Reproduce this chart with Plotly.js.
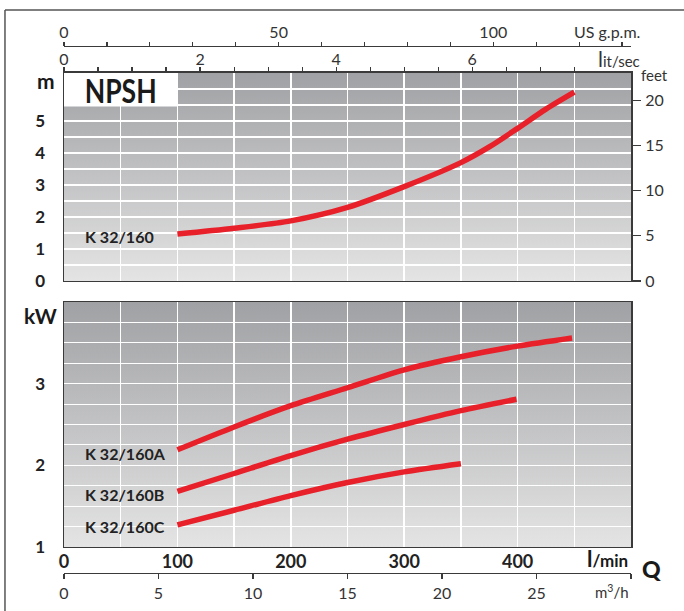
<!DOCTYPE html>
<html>
<head>
<meta charset="utf-8">
<script src="https://cdn.plot.ly/plotly-3.0.1.min.js"></script>
<style>html,body{margin:0;padding:0;background:#fff;}#chart{width:684px;height:611px;}</style>
</head>
<body>
<div id="chart"></div>
<script>
// ---- data ----
const flowNPSH = [100, 150, 200, 250, 300, 350, 375, 400, 425, 450];      // l/min
const npshK160 = [1.47, 1.65, 1.88, 2.30, 2.95, 3.70, 4.19, 4.77, 5.37, 5.90]; // m
const flowA = [100, 150, 200, 250, 300, 350, 400, 448];
const powerA = [2.19, 2.47, 2.73, 2.95, 3.17, 3.33, 3.46, 3.56];          // kW
const flowB = [100, 150, 200, 250, 300, 350, 399];
const powerB = [1.68, 1.90, 2.12, 2.32, 2.50, 2.67, 2.81];
const flowC = [100, 150, 200, 250, 300, 350];
const powerC = [1.27, 1.45, 1.63, 1.79, 1.92, 2.02];

const seriesNames = ['K 32/160', 'K 32/160A', 'K 32/160B', 'K 32/160C'];

// axis ticks / labels
const lminMax = 500;
const lminTicks = [0, 50, 100, 150, 200, 250, 300, 350, 400, 450, 500];
const lminLabels = ['0', '', '100', '', '200', '', '300', '', '400', '', ''];
const m3hTicks = [0, 5, 10, 15, 20, 25, 30];
const m3hLabels = ['0', '5', '10', '15', '20', '25', ''];
const lsecTicks = [0, 0.5, 1, 1.5, 2, 2.5, 3, 3.5, 4, 4.5, 5, 5.5, 6, 6.5, 7, 7.5];
const lsecLabels = ['0', '', '', '', '2', '', '', '', '4', '', '', '', '6', '', '', ''];
const gpmTicks = [0, 10, 20, 30, 40, 50, 60, 70, 80, 90, 100, 110, 120, 130];
const gpmLabels = ['0', '', '', '', '', '50', '', '', '', '', '100', '', '', ''];
const mTicks = [0, 0.5, 1, 1.5, 2, 2.5, 3, 3.5, 4, 4.5, 5, 5.5, 6, 6.5];
const mLabels = ['0', '', '1', '', '2', '', '3', '', '4', '', '5', '', '', ''];
const feetTicks = [0, 5, 10, 15, 20];
const kwTicks = [1, 1.25, 1.5, 1.75, 2, 2.25, 2.5, 2.75, 3, 3.25, 3.5, 3.75, 4];
const kwLabels = ['1', '', '', '', '2', '', '', '', '3', '', '', '', ''];

// ---- styling ----
const RED = '#e8202a';
const DARK = '#3a3a3a';
const FONT = 'Lato, "Open Sans", sans-serif';
const lineStyle = {color: RED, width: 5.5, shape: 'spline', smoothing: 0.8};

const traces = [
  {x: flowNPSH, y: npshK160, xaxis: 'x2', yaxis: 'y2', mode: 'lines', line: lineStyle, name: seriesNames[0], hoverinfo: 'skip'},
  {x: flowA, y: powerA, xaxis: 'x', yaxis: 'y', mode: 'lines', line: lineStyle, name: seriesNames[1], hoverinfo: 'skip'},
  {x: flowB, y: powerB, xaxis: 'x', yaxis: 'y', mode: 'lines', line: lineStyle, name: seriesNames[2], hoverinfo: 'skip'},
  {x: flowC, y: powerC, xaxis: 'x', yaxis: 'y', mode: 'lines', line: lineStyle, name: seriesNames[3], hoverinfo: 'skip'},
  // empty traces so that the secondary unit axes get drawn
  {x: [], y: [], xaxis: 'x3', yaxis: 'y2', mode: 'lines', hoverinfo: 'skip'},
  {x: [], y: [], xaxis: 'x4', yaxis: 'y2', mode: 'lines', hoverinfo: 'skip'},
  {x: [], y: [], xaxis: 'x5', yaxis: 'y', mode: 'lines', hoverinfo: 'skip'},
  {x: [], y: [], xaxis: 'x2', yaxis: 'y3', mode: 'lines', hoverinfo: 'skip'}
];

// paper mapping: paper spans pixel rows 46..573
const topDom = [0.55408, 0.94877];
const botDom = [0.04934, 0.51423];

const grad = 'data:image/svg+xml;utf8,' + encodeURIComponent(
  '<svg xmlns="http://www.w3.org/2000/svg" width="100" height="100" viewBox="0 0 100 100" preserveAspectRatio="none">' +
  '<defs><linearGradient id="g" x1="0" y1="0" x2="0" y2="1">' +
  '<stop offset="0" stop-color="#a0a1a4"/><stop offset="1" stop-color="#e4e4e4"/>' +
  '</linearGradient></defs><rect width="100" height="100" fill="url(#g)"/></svg>');

const boldTick = {family: FONT, size: 17, color: '#222', weight: 700};
const lightTick = {family: FONT, size: 16, color: '#333', weight: 400};

const layout = {
  width: 684, height: 611,
  margin: {l: 64, r: 53, t: 46, b: 38},
  paper_bgcolor: '#ffffff',
  plot_bgcolor: '#c4c5c7',
  showlegend: false,
  font: {family: FONT, color: '#222'},
  // bottom panel: power
  xaxis: {
    domain: [0, 1], anchor: 'y', range: [0, lminMax],
    tickmode: 'array', tickvals: lminTicks, ticktext: lminLabels,
    ticks: '', tickfont: {family: FONT, size: 18, color: '#222', weight: 700},
    ticklabelstandoff: -2,
    showgrid: true, gridcolor: '#ffffff', gridwidth: 1.5,
    showline: true, linecolor: DARK, linewidth: 1.5, mirror: true, zeroline: false
  },
  yaxis: {
    domain: botDom, anchor: 'x', range: [1, 4],
    tickmode: 'array', tickvals: kwTicks, ticktext: kwLabels,
    ticks: '', tickfont: boldTick, ticklabelstandoff: 14,
    showgrid: true, gridcolor: '#ffffff', gridwidth: 1.1,
    showline: true, linecolor: DARK, linewidth: 1.5, mirror: true, zeroline: false
  },
  // top panel: NPSH
  xaxis2: {
    domain: [0, 1], anchor: 'y2', range: [0, lminMax],
    tickmode: 'array', tickvals: lminTicks, showticklabels: false, ticks: '',
    showgrid: true, gridcolor: '#ffffff', gridwidth: 1.5,
    showline: true, linecolor: DARK, linewidth: 1.5, mirror: true, zeroline: false
  },
  yaxis2: {
    domain: topDom, anchor: 'x2', range: [0, 6.5],
    tickmode: 'array', tickvals: mTicks, ticktext: mLabels,
    ticks: '', tickfont: boldTick, ticklabelstandoff: 14,
    showgrid: true, gridcolor: '#ffffff', gridwidth: 1.1,
    showline: true, linecolor: DARK, linewidth: 1.5, mirror: true, zeroline: false
  },
  // lit/sec along top of NPSH panel
  xaxis3: {
    overlaying: 'x2', anchor: 'y2', side: 'top', range: [0, lminMax / 60],
    tickmode: 'array', tickvals: lsecTicks, ticktext: lsecLabels,
    ticks: 'outside', ticklen: 4, tickwidth: 1.2, tickcolor: DARK,
    tickfont: lightTick, ticklabelstandoff: -4,
    showgrid: false, showline: true, linecolor: DARK, linewidth: 1.5, zeroline: false
  },
  // US g.p.m. free axis at very top
  xaxis4: {
    overlaying: 'x2', anchor: 'free', position: 1, side: 'top', range: [0, lminMax / 3.78541],
    tickmode: 'array', tickvals: gpmTicks, ticktext: gpmLabels,
    ticks: 'outside', ticklen: 4, tickwidth: 1.2, tickcolor: DARK,
    tickfont: lightTick, ticklabelstandoff: -2,
    showgrid: false, showline: true, linecolor: DARK, linewidth: 1.2, zeroline: false
  },
  // m3/h free axis at very bottom
  xaxis5: {
    overlaying: 'x', anchor: 'free', position: 0, side: 'bottom', range: [0, lminMax * 60 / 1000],
    tickmode: 'array', tickvals: m3hTicks, ticktext: m3hLabels,
    ticks: 'outside', ticklen: 5, tickwidth: 1.2, tickcolor: DARK,
    tickfont: lightTick, ticklabelstandoff: 1,
    showgrid: false, showline: true, linecolor: DARK, linewidth: 1.2, zeroline: false
  },
  // feet on right of NPSH panel
  yaxis3: {
    overlaying: 'y2', anchor: 'x2', side: 'right', range: [0, 23],
    tickmode: 'array', tickvals: feetTicks,
    ticks: 'outside', ticklen: 9, tickwidth: 1.2, tickcolor: DARK,
    tickfont: lightTick, ticklabelstandoff: 1,
    showgrid: false, showline: false, zeroline: false
  },
  images: [
    {source: grad, xref: 'x domain', yref: 'y domain', x: 0, y: 1, sizex: 1, sizey: 1,
     xanchor: 'left', yanchor: 'top', sizing: 'stretch', layer: 'below'},
    {source: grad, xref: 'x2 domain', yref: 'y2 domain', x: 0, y: 1, sizex: 1, sizey: 1,
     xanchor: 'left', yanchor: 'top', sizing: 'stretch', layer: 'below'}
  ],
  shapes: [
    // white NPSH title box
    {type: 'rect', xref: 'x2', yref: 'y2', x0: 0, x1: 100, y0: 5.45, y1: 6.5,
     fillcolor: '#ffffff', line: {width: 0}, layer: 'between'},
    // outer frame (left and top)
    {type: 'line', xref: 'paper', yref: 'paper', x0: -0.1041, x1: -0.1041, y0: 1.0683, y1: -0.09,
     line: {color: '#555', width: 1.5}},
    {type: 'line', xref: 'paper', yref: 'paper', x0: -0.1041, x1: 1.11, y0: 1.0683, y1: 1.0683,
     line: {color: '#555', width: 1.5}}
  ],
  annotations: [
    {text: 'NPSH', xref: 'paper', yref: 'paper', x: 0.1005, y: 0.9165, showarrow: false,
     font: {family: FONT, size: 33, color: '#1a1a1a', weight: 700},
     xanchor: 'center', yanchor: 'middle', name: 'npshTitle'},
    {text: 'm', xref: 'paper', yref: 'paper', x: -0.0317, y: 0.9336, showarrow: false,
     font: {family: FONT, size: 21, color: '#1a1a1a', weight: 700}, xanchor: 'center', yanchor: 'middle'},
    {text: 'kW', xref: 'paper', yref: 'paper', x: -0.0423, y: 0.4877, showarrow: false,
     font: {family: FONT, size: 21, color: '#1a1a1a', weight: 700}, xanchor: 'center', yanchor: 'middle'},
    {text: seriesNames[0], xref: 'paper', yref: 'y2', x: 0.0335, y: 1.375, showarrow: false,
     font: {family: FONT, size: 16, color: '#222', weight: 700}, xanchor: 'left', yanchor: 'middle'},
    {text: seriesNames[1], xref: 'paper', yref: 'y', x: 0.0335, y: 2.15, showarrow: false,
     font: {family: FONT, size: 16, color: '#222', weight: 700}, xanchor: 'left', yanchor: 'middle'},
    {text: seriesNames[2], xref: 'paper', yref: 'y', x: 0.0335, y: 1.64, showarrow: false,
     font: {family: FONT, size: 16, color: '#222', weight: 700}, xanchor: 'left', yanchor: 'middle'},
    {text: seriesNames[3], xref: 'paper', yref: 'y', x: 0.0335, y: 1.245, showarrow: false,
     font: {family: FONT, size: 16, color: '#222', weight: 700}, xanchor: 'left', yanchor: 'middle'},
    {text: 'US g.p.m.', xref: 'paper', yref: 'paper', x: 1.0194, y: 1.0266, showarrow: false,
     font: {family: FONT, size: 16, color: '#333'}, xanchor: 'right', yanchor: 'middle'},
    {text: '<span style="font-size:21px">l</span>it/sec', xref: 'paper', yref: 'paper', x: 1.0194, y: 0.976, showarrow: false,
     font: {family: FONT, size: 15, color: '#333'}, xanchor: 'right', yanchor: 'middle'},
    {text: 'feet', xref: 'paper', yref: 'paper', x: 1.0423, y: 0.945, showarrow: false,
     font: {family: FONT, size: 15, color: '#333'}, xanchor: 'center', yanchor: 'middle'},
    {text: '<span style="font-size:22px">l</span>/min', xref: 'paper', yref: 'paper', x: 0.9982, y: 0.0266, showarrow: false,
     font: {family: FONT, size: 17, color: '#1a1a1a', weight: 700}, xanchor: 'right', yanchor: 'middle'},
    {text: 'Q', xref: 'paper', yref: 'paper', x: 1.0353, y: 0.0076, showarrow: false,
     font: {family: FONT, size: 23, color: '#1a1a1a', weight: 900}, xanchor: 'center', yanchor: 'middle'},
    {text: 'm<sup>3</sup>/h', xref: 'paper', yref: 'paper', x: 0.9665, y: -0.036, showarrow: false,
     font: {family: FONT, size: 15, color: '#333'}, xanchor: 'center', yanchor: 'middle'}
  ]
};

Plotly.newPlot('chart', traces, layout, {displayModeBar: false, staticPlot: true}).then(function (gd) {
  // the reference title uses a condensed face: squeeze the NPSH text to its width
  gd.querySelectorAll('.annotation-text').forEach(function (t) {
    if (t.textContent === 'NPSH') {
      const bb = t.getBBox();
      const cx = bb.x + bb.width / 2;
      t.setAttribute('textLength', '72');
      t.setAttribute('lengthAdjust', 'spacingAndGlyphs');
      t.setAttribute('x', String(cx - 36));
      t.setAttribute('text-anchor', 'start');
    }
  });
});
</script>
</body>
</html>
